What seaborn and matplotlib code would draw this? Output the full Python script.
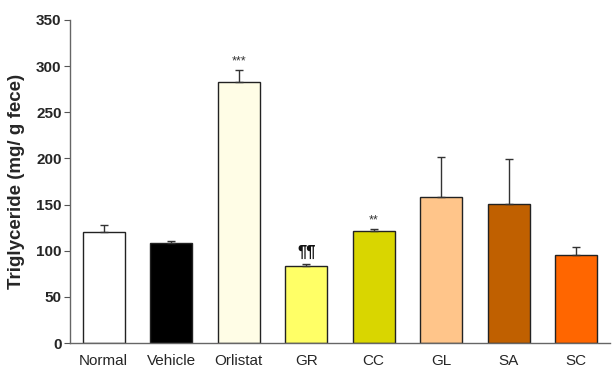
import matplotlib
matplotlib.use("Agg")
import matplotlib.pyplot as plt
import seaborn as sns
import pandas as pd
import numpy as np

categories = ["Normal", "Vehicle", "Orlistat", "GR", "CC", "GL", "SA", "SC"]
means = [120, 108, 283, 83, 121, 158, 151, 95]
errors = [8, 2, 13, 3, 2, 44, 48, 9]
colors = ["#FFFFFF", "#000000", "#FFFDE6", "#FFFF66", "#D9D600", "#FFC58A", "#C06000", "#FF6600"]
marks = ["", "", "***", "¶¶", "**", "", "", ""]
yticks = [0, 50, 100, 150, 200, 250, 300, 350]

sns.set_style("white")
plt.rcParams["font.family"] = ["Liberation Sans Narrow", "Liberation Sans", "DejaVu Sans"]

df = pd.DataFrame({"cat": categories, "val": means})
fig = plt.figure(figsize=(6.15, 3.83), dpi=100)
ax = fig.add_axes([0.1138, 0.1044, 0.878, 0.8436])
sns.barplot(data=df, x="cat", y="val", hue="cat", palette=colors, order=categories,
            hue_order=categories, legend=False, width=0.62, edgecolor="#222222",
            linewidth=1.0, ax=ax, errorbar=None, saturation=1)
x = np.arange(len(categories))
ax.errorbar(x, means, yerr=[np.zeros(len(errors)), errors], fmt="none",
            ecolor="#333333", elinewidth=1.0, capsize=3, capthick=1.0)
for xi, m, e, t in zip(x, means, errors, marks):
    if t == "¶¶":
        ax.text(xi, m + e + 4, t, ha="center", va="bottom", fontsize=12, color="#111111",
                fontweight="bold")
    elif t:
        ax.text(xi, m + e + 3, t, ha="center", va="bottom", fontsize=9, color="#333333")
ax.set_ylim(0, 350)
ax.set_xlim(-0.5, len(categories) - 0.5)
ax.set_yticks(yticks)
ax.set_yticklabels([str(v) for v in yticks], fontsize=11, fontweight="bold")
ax.set_xticks(x)
ax.set_xticklabels(categories, fontsize=11)
ax.tick_params(axis="x", length=0, pad=8)
ax.tick_params(axis="y", length=4, direction="out", color="#555555", left=True, pad=2)
ax.set_xlabel("")
ax.set_ylabel("Triglyceride (mg/ g fece)", fontsize=13.5, fontweight="bold",
              family=["Liberation Sans", "DejaVu Sans"], labelpad=8)
for s in ["top", "right"]:
    ax.spines[s].set_visible(False)
for s in ["left", "bottom"]:
    ax.spines[s].set_color("#666666")
    ax.spines[s].set_linewidth(1.0)
fig.savefig("out.png", dpi=100)
